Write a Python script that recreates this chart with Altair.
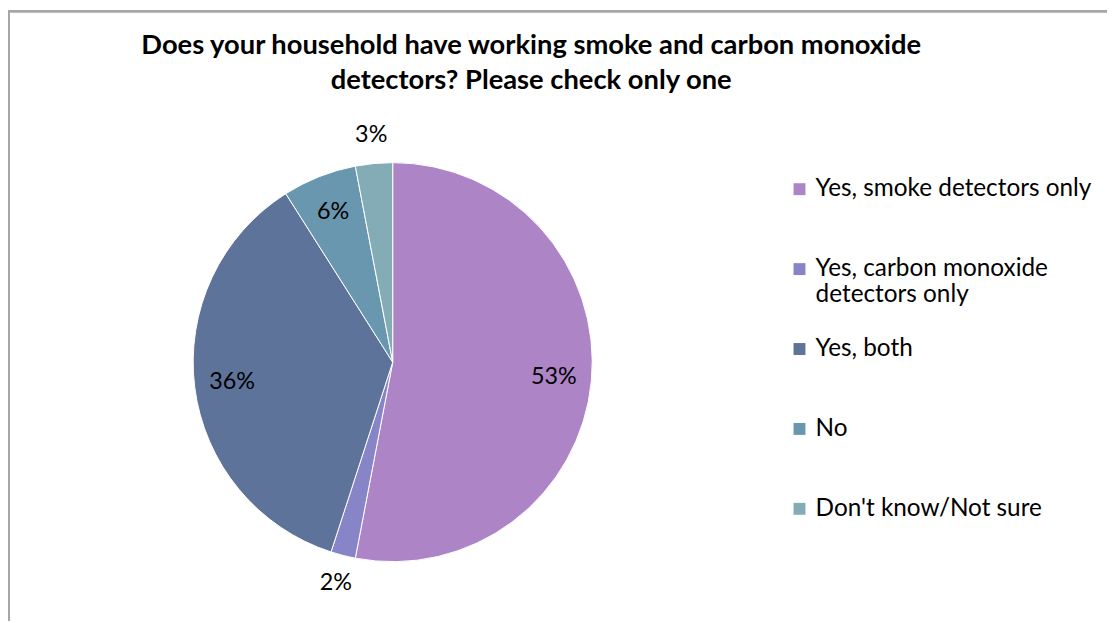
import altair as alt
import pandas as pd

categories = ["Yes, smoke detectors only", "Yes, carbon monoxide detectors only",
              "Yes, both", "No", "Don't know/Not sure"]
values = [53, 2, 36, 6, 3]
labels = ["53%", "2%", "36%", "6%", "3%"]
colors = ["#AD84C6", "#8784C7", "#5D739A", "#6997AF", "#84ACB6"]

df = pd.DataFrame({"cat": categories, "val": values, "lab": labels,
                   "idx": list(range(len(categories)))})

FONT = "Lato"
CX, CY = 387.5, 354.5
W, H = 1107, 615

base = alt.Chart(df).encode(
    theta=alt.Theta("val:Q", stack=True),
    order=alt.Order("idx:Q"),
)

pie = base.mark_arc(radius=201, stroke="white", strokeWidth=1,
                    x=CX, y=CY).encode(
    color=alt.Color("cat:N", scale=alt.Scale(domain=categories, range=colors),
                    legend=alt.Legend(
                        title=None, orient="none", legendX=785, legendY=168,
                        symbolType="square", symbolSize=144, symbolStrokeWidth=0,
                        labelFont=FONT, labelFontSize=24.5, labelColor="black",
                        labelLimit=400, rowPadding=28.5, gridAlign="all",
                        labelExpr="datum.label == 'Yes, carbon monoxide detectors only' ? ['Yes, carbon monoxide', 'detectors only'] : datum.label",
                    )),
)

pct = base.mark_text(radius=alt.expr("datum.val < 5 ? 230 : 163"),
                     font=FONT, fontSize=23.5, color="black",
                     x=CX, y=CY).encode(text="lab:N")

border_left = alt.Chart(df).mark_rule(color="#A6A6A6", strokeWidth=2).encode(
    x=alt.value(1), y=alt.value(0), y2=alt.value(H))
border_top = alt.Chart(df).mark_rule(color="#A6A6A6", strokeWidth=2).encode(
    x=alt.value(0), x2=alt.value(W), y=alt.value(1))

chart = alt.layer(border_left, border_top, pie, pct).properties(
    width=W, height=H,
    autosize=alt.AutoSizeParams(type="none"),
    padding={"left": 0, "right": 0, "top": 0, "bottom": 0},
    title=alt.TitleParams(
        text=["Does your household have working smoke and carbon monoxide",
              "detectors? Please check only one"],
        font=FONT, fontSize=27.5, fontWeight="bold", color="black",
        anchor="middle", dx=-26.5, dy=86, lineHeight=35, offset=0),
).configure_view(stroke=None)

chart.save("out.html", embed_options={"renderer": "svg", "actions": False})
